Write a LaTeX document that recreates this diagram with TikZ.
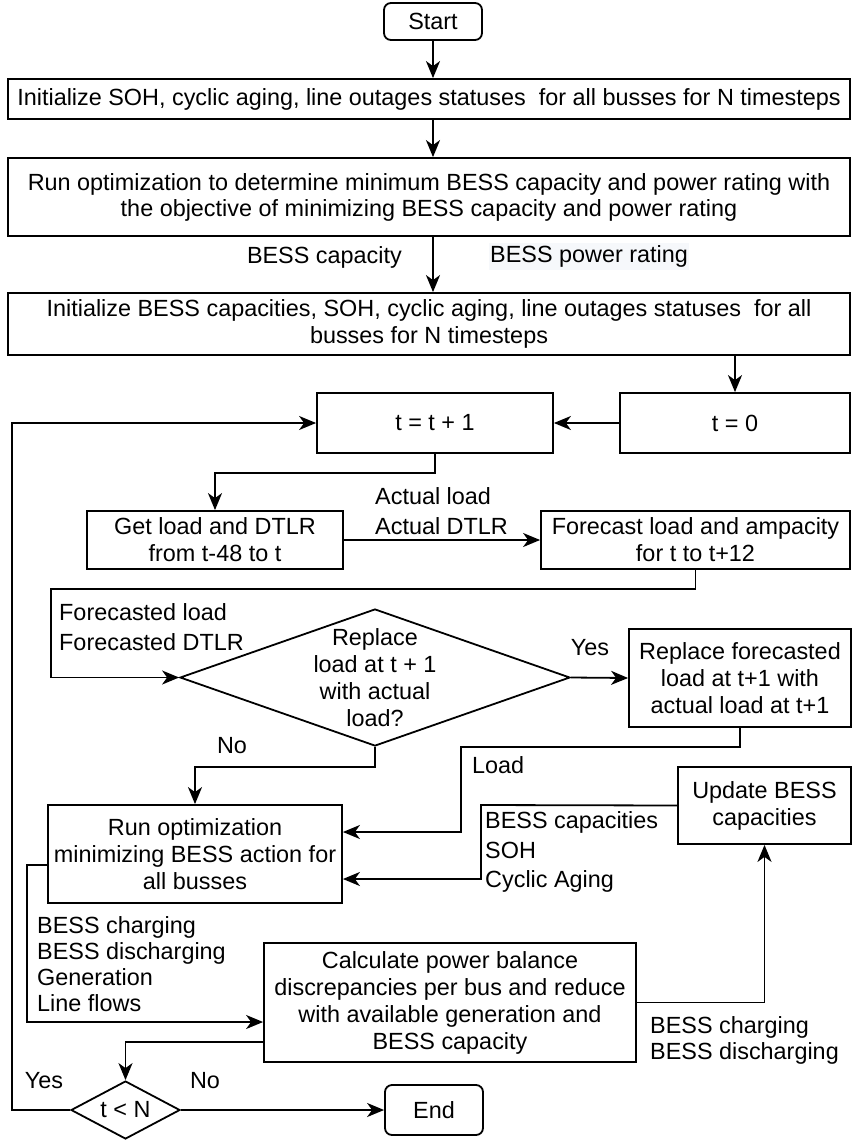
\documentclass[tikz,border=0pt]{standalone}
\usepackage{fontspec}
\setmainfont{Liberation Sans}
\usetikzlibrary{arrows.meta,shapes.geometric,calc}
\definecolor{labelbg}{RGB}{246,248,251}
\begin{document}
\begin{tikzpicture}[x=1pt,y=-1pt,
  every node/.style={font=\fontsize{23.4}{27}\selectfont, inner sep=0pt},
  box/.style={draw, line width=1.8pt, align=center},
  term/.style={box, rounded corners=7pt},
  decision/.style={draw, diamond, line width=1.8pt},
  lbl/.style={align=left, anchor=west},
  widelbl/.style={lbl, font=\fontsize{23.4}{29.5}\selectfont},
  flow/.style={draw, line width=1.8pt, -{Stealth[length=17pt,width=14pt,inset=5pt]}},
]
\useasboundingbox (0,0) rectangle (852,1141);

% ---- process blocks ----
\node[term, minimum width=98pt, minimum height=37pt] (start) at (433,21.5) {Start};
\node[box, minimum width=842pt, minimum height=40pt] (init1) at (429,99)
  {Initialize SOH, cyclic aging, line outages statuses~ for all busses for N timesteps};
\node[box, minimum width=842pt, minimum height=78pt, font=\fontsize{23.4}{26}\selectfont] (opt1) at (429,197)
  {Run optimization to determine minimum BESS capacity and power rating with\\the objective of minimizing BESS capacity and power rating};
\node[box, minimum width=842pt, minimum height=62pt] (init2) at (429,324)
  {Initialize BESS capacities, SOH, cyclic aging, line outages statuses~ for all\\busses for N timesteps};
\node[box, minimum width=230pt, minimum height=60pt] (t0) at (735,423) {t = 0};
\node[box, minimum width=236pt, minimum height=60pt] (tinc) at (435,423) {t = t + 1};
\node[box, minimum width=256pt, minimum height=58pt] (getload) at (215,540)
  {Get load and DTLR\\from t-48 to t};
\node[box, minimum width=309pt, minimum height=58pt] (fcast) at (695.5,540)
  {Forecast load and ampacity\\for t to t+12};
\node[decision, minimum width=390pt, minimum height=137pt] (dec) at (375,677.5) {};
\node[align=center] (dectext) at (dec.center) {Replace\\load at t + 1\\with actual\\load?};
\node[box, minimum width=222pt, minimum height=98pt] (repl) at (740,678)
  {Replace forecasted\\load at t+1 with\\actual load at t+1};
\node[box, minimum width=294pt, minimum height=98pt] (opt2) at (195,854)
  {Run optimization\\minimizing BESS action for\\all busses};
\node[box, minimum width=173pt, minimum height=77pt] (upd) at (764.5,805.5)
  {Update BESS\\capacities};
\node[box, minimum width=372pt, minimum height=119pt] (calc) at (450,1002.5)
  {Calculate power balance\\discrepancies per bus and reduce\\with available generation and\\BESS capacity};
\node[decision, minimum width=109pt, minimum height=58pt] (tlt) at (125.5,1110) {};
\node (tlttext) at (tlt.center) {t < N};
\node[term, minimum width=98pt, minimum height=50pt] (endn) at (434,1110) {End};

% ---- data labels ----
\node[anchor=east] (lcap) at (402,257) {BESS capacity};
\node[anchor=west, fill=labelbg, minimum height=27pt, inner xsep=1pt] (lpow) at (489,256) {BESS power rating};
\node[widelbl] (lact) at (375,511) {Actual load\\Actual DTLR};
\node[widelbl] (lfc) at (59,627) {Forecasted load\\Forecasted DTLR};
\node (lyes1) at (590,648) {Yes};
\node (lno1) at (232,746) {No};
\node[lbl] (lload) at (472,765) {Load};
\node[widelbl] (lbess) at (485,852) {BESS capacities\\SOH\\Cyclic Aging};
\node[lbl, font=\fontsize{23.4}{26}\selectfont] (lgen) at (37,964)
  {BESS charging\\BESS discharging\\Generation\\Line flows};
\node[lbl, font=\fontsize{23.4}{26}\selectfont] (lbd) at (650,1040.5)
  {BESS charging\\BESS discharging};
\node (lyes2) at (44,1081) {Yes};
\node (lno2) at (205,1081) {No};

% ---- bend points ----
\coordinate (fl) at (51,589);
\coordinate (ld) at (461,747);
\coordinate (bc) at (481,805);
\coordinate (g1) at (27,1022);
\coordinate (lp) at (12,423);

% ---- connectors ----
\draw[flow] (start.south) -- (start.south |- init1.north);
\draw[flow] (init1.south -| start) -- (opt1.north -| start);
\draw[flow] (opt1.south -| start) -- (init2.north -| start);
\draw[flow] (init2.south -| t0) -- (t0.north);
\draw[flow] (t0) -- (tinc);
\draw[flow] (tinc.south) -- ++(0,19) -| (getload.north);
\draw[flow] (getload) -- (fcast);
\draw[flow] (fcast.south) |- (fl) |- (dec.west);
\draw[flow] (dec.east) -- (repl.west);
\draw[flow] (dec.south) -- ++(0,20) -| (opt2.north);
\draw[flow] (repl.south) |- (ld) |- ([yshift=22pt]opt2.east);
\draw[flow] (upd.west) -- (bc) |- ([yshift=-25pt]opt2.east);
\draw[flow] ([yshift=-11pt]opt2.west) -| (g1) -- (calc.west |- g1);
\draw[flow] (calc.east) -| (upd.south);
\draw[flow] ([yshift=-39.5pt]calc.west) -| (tlt.north);
\draw[flow] (tlt.west) -| (lp) -- (tinc.west);
\draw[flow] (tlt.east) -- (endn.west);
\end{tikzpicture}
\end{document}
